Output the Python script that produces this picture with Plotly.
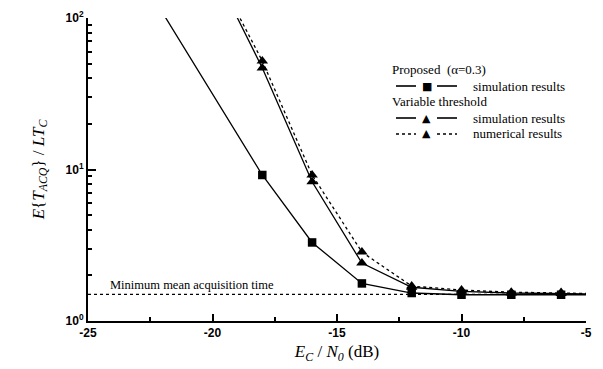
import math
import plotly.graph_objects as go

# ---- data ----
snr_db = [-22, -20, -18, -16, -14, -12, -10, -8, -6, -5]
proposed_sim = [108, 31.5, 9.2, 3.3, 1.77, 1.53, 1.49, 1.49, 1.49, 1.49]

snr_vt = [-20, -18, -16, -14, -12, -10, -8, -6, -5]
vt_sim = [214, 46.8, 8.3, 2.41, 1.67, 1.57, 1.53, 1.52, 1.51]
vt_num = [223, 52.0, 9.2, 2.85, 1.70, 1.60, 1.55, 1.54, 1.52]

min_time_x = [-25, -5]
min_time_y = [1.5, 1.5]

x_ticks = [-25, -20, -15, -10, -5]
y_ticks = [1, 10, 100]
y_ticklabels = ["10<sup>0</sup>", "10<sup>1</sup>", "10<sup>2</sup>"]
y_minor = [2, 3, 4, 5, 6, 7, 8, 9, 20, 30, 40, 50, 60, 70, 80, 90]

legend_groups = ["Proposed  (α=0.3)", "Variable threshold"]
legend_items = ["simulation results", "simulation results", "numerical results"]

SERIF = "Liberation Serif"
SANS = "Liberation Sans"

# page layout (page body has an 8px default margin)
OFF = 8
PL, PR, PT, PB = 88, 586, 18, 321   # plot area in page pixels

def msizes(xs, size):
    return [size if -18 <= v <= -6 else 0 for v in xs]

fig = go.Figure()
fig.add_trace(go.Scatter(x=min_time_x, y=min_time_y, mode="lines",
                         line=dict(color="black", width=1.2, dash="dot"), showlegend=False))
fig.add_trace(go.Scatter(x=snr_db, y=proposed_sim, mode="lines+markers",
                         line=dict(color="black", width=1.3),
                         marker=dict(symbol="square", size=msizes(snr_db, 8.5), color="black",
                                     opacity=1, line=dict(width=0)),
                         showlegend=False))
fig.add_trace(go.Scatter(x=snr_vt, y=vt_num, mode="lines+markers",
                         line=dict(color="black", width=1.3, dash="dot"),
                         marker=dict(symbol="triangle-up", size=msizes(snr_vt, 10), color="black",
                                     opacity=1, line=dict(width=0)),
                         showlegend=False))
fig.add_trace(go.Scatter(x=snr_vt, y=vt_sim, mode="lines+markers",
                         line=dict(color="black", width=1.3),
                         marker=dict(symbol="triangle-up", size=msizes(snr_vt, 10), color="black",
                                     opacity=1, line=dict(width=0)),
                         showlegend=False))

fig.add_annotation(x=-24.2, y=math.log10(min_time_y[0]), yref="y", xref="x",
                   text="Minimum mean acquisition time",
                   showarrow=False, xanchor="left", yanchor="bottom", yshift=0,
                   font=dict(family=SERIF, size=12.5, color="black"))

# ---- manual legend (positions in page pixels -> paper coords) ----
def px(x):
    return (x - PL) / (PR - PL)
def py(y):
    return (PB - y) / (PB - PT)

rows_y = [70, 86, 101, 118, 134]
for title, yy in zip(legend_groups, [rows_y[0], rows_y[2]]):
    fig.add_annotation(xref="paper", yref="paper", x=px(390), y=py(yy), text=title,
                       showarrow=False, xanchor="left", yanchor="middle",
                       font=dict(family=SERIF, size=13, color="black"))
item_rows = [rows_y[1], rows_y[3], rows_y[4]]
item_dash = ["solid", "solid", "dot"]
item_sym = ["■", "▲", "▲"]
for txt, yy, dash, sym in zip(legend_items, item_rows, item_dash, item_sym):
    for x0, x1 in [(396, 416), (437, 457)]:
        fig.add_shape(type="line", xref="paper", yref="paper", x0=px(x0), x1=px(x1),
                      y0=py(yy), y1=py(yy), line=dict(color="black", width=1.6, dash=dash))
    fig.add_annotation(xref="paper", yref="paper", x=px(426.5), y=py(yy), text=sym,
                       showarrow=False, xanchor="center", yanchor="middle",
                       font=dict(family="DejaVu Sans", size=11, color="black"))
    fig.add_annotation(xref="paper", yref="paper", x=px(471), y=py(yy), text=txt,
                       showarrow=False, xanchor="left", yanchor="middle",
                       font=dict(family=SERIF, size=13, color="black"))

fig.update_xaxes(range=[-25, -5], tickvals=x_ticks, ticktext=[str(v) for v in x_ticks],
                 ticks="inside", ticklen=7, tickwidth=1.5, tickcolor="black",
                 minor=dict(dtick=2.5, tick0=-25, ticks="inside", ticklen=4, tickcolor="black"),
                 showline=True, linecolor="black", linewidth=2, showgrid=False, zeroline=False,
                 automargin=False,
                 tickfont=dict(family=SANS, size=12, color="black", weight="bold"),
                 title=dict(text="<i>E</i><sub><i>C</i></sub> / <i>N</i><sub><i>0</i></sub> (dB)",
                            font=dict(family=SERIF, size=17, color="black"), standoff=6))
fig.update_yaxes(type="log", range=[0, 2], tickvals=y_ticks, ticktext=y_ticklabels,
                 ticks="inside", ticklen=8, tickwidth=1.5, tickcolor="black",
                 minor=dict(tickvals=y_minor, ticks="inside", ticklen=4, tickcolor="black",
                            showgrid=False),
                 showline=True, linecolor="black", linewidth=2, showgrid=False, zeroline=False,
                 automargin=False,
                 tickfont=dict(family=SANS, size=12, color="black", weight="bold"),
                 title=dict(text="<i>E</i>{<i>T</i><sub><i>ACQ</i></sub>} / <i>LT</i><sub><i>C</i></sub>",
                            font=dict(family=SERIF, size=17, color="black"), standoff=17))

FIG_W, FIG_H = 603 - OFF, 369 - OFF
fig.update_layout(width=FIG_W, height=FIG_H,
                  margin=dict(l=PL - OFF, r=OFF + FIG_W - PR, t=PT - OFF, b=OFF + FIG_H - PB),
                  plot_bgcolor="white", paper_bgcolor="white", showlegend=False)

fig.write_html("out.html")
